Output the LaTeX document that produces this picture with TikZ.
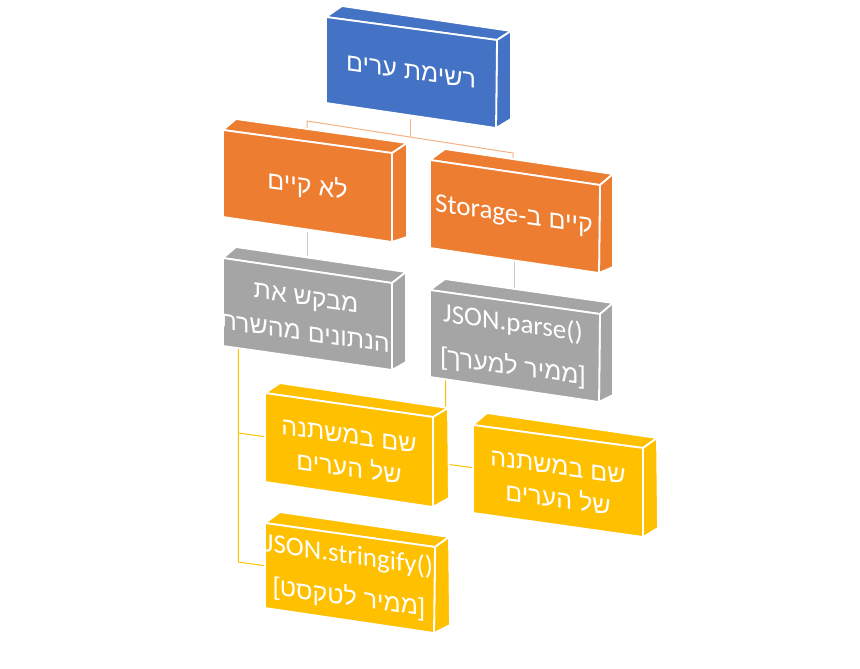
\documentclass[tikz,border=0pt]{standalone}
\usepackage{fontspec}
\setmainfont{Liberation Sans}
\newfontfamily\hebfont[Script=Hebrew]{Liberation Sans}
\newfontfamily\latfont{Carlito}
\TeXXeTstate=1
\definecolor{cblue}{HTML}{4472C4}
\definecolor{corange}{HTML}{ED7D31}
\definecolor{cgray}{HTML}{A5A5A5}
\definecolor{cgold}{HTML}{FFC000}
\definecolor{lorange}{HTML}{F4B183}
\definecolor{lgray}{HTML}{C9C9C9}
\newcommand\tdbox[9]{%
  \coordinate (#1-tl) at (#3);
  \coordinate (#1-tr) at (#4);
  \coordinate (#1-bl) at (#5);
  \coordinate (#1-br) at (#6);
  \coordinate (#1-btl) at (#7);
  \coordinate (#1-btr) at (#8);
  \coordinate (#1-bbr) at (#9);
  \filldraw[face, fill=#2] (#1-tl) -- (#1-btl) -- (#1-btr) -- (#1-tr) -- cycle;
  \filldraw[face, fill=#2] (#1-tr) -- (#1-btr) -- (#1-bbr) -- (#1-br) -- cycle;
  \filldraw[face, fill=#2] (#1-tl) -- (#1-tr) -- (#1-br) -- (#1-bl) -- cycle;
}
\begin{document}
\begin{tikzpicture}[x=1pt,y=-1pt,
  face/.style={draw=white, line width=1.8pt, line join=round},
  lbl/.style={text=white, inner sep=0pt, yslant=-0.14, transform shape,
    font=\fontsize{25}{30}\selectfont},
  lat/.style={font=\fontsize{27}{30}\latfont},
  conn/.style={line width=1pt}]
\useasboundingbox (0,0) rectangle (860,669);
% connector coordinates
\coordinate (c1a) at (410.7,119);
\coordinate (c1b) at (410.7,137);
\coordinate (c1l) at (307,121);
\coordinate (c1r) at (513,153);
\coordinate (c2t) at (307,132);
\coordinate (c3t) at (513,162);
\coordinate (c4a) at (307,232);
\coordinate (c4b) at (307,256);
\coordinate (c5a) at (514,262);
\coordinate (c5b) at (514,290);
\coordinate (g1) at (238.3,345);
\coordinate (g2) at (238.3,433);
\coordinate (g3) at (238.3,562);
\coordinate (g6) at (267,437);
\coordinate (g8) at (267,566);
\coordinate (h1) at (445.7,376);
\coordinate (h2) at (445.7,464);
\coordinate (h7) at (475,468);
\draw[conn, lorange] (c1a) -- (c1b);
\draw[conn, lorange] (c2t) -- (c1l) -- (c1r) -- (c3t);
\draw[conn, lgray] (c4a) -- (c4b);
\draw[conn, lgray] (c5a) -- (c5b);
\draw[conn, cgold] (g1) -- (g3) -- (g8);
\draw[conn, cgold] (g2) -- (g6);
\draw[conn, cgold] (h1) -- (h2) -- (h7);
% boxes
\tdbox{b1}{cblue}{326,17}{497,40}{326,103}{496,128}{342,6}{511,31}{511,119}
\tdbox{b2}{corange}{223,130}{392,153}{223,217}{392,242}{236,119}{407,143}{407,237}
\tdbox{b3}{corange}{430,160}{600,185}{430,248}{599,273}{445,149}{613,174}{613,267}
\tdbox{b4}{cgray}{223,258}{392,283}{223,346}{392,370}{236,247}{406,272}{406,362}
\tdbox{b5}{cgray}{430,290}{600,314}{430,377}{599,402}{445,279}{613,303}{613,395}
\tdbox{b6}{cgold}{265,393}{433,417}{265,482}{433,507}{280,383}{448,408}{449,498}
\tdbox{b7}{cgold}{473,425}{643,448}{473,513}{643,537}{487,413}{657,438}{658,528}
\tdbox{b8}{cgold}{265,523}{435,547}{265,608}{434,633}{280,512}{449,537}{450,625}
% labels
\node[lbl] (t1) at (411,72) {\hebfont\beginR רשימת ערים\endR};
\node[lbl] (t2) at (307.5,186) {\hebfont\beginR לא קיים\endR};
\node[lbl] (t3) at (514,216) {\hebfont\beginR קיים ב-\beginL{\fontsize{27}{30}\latfont Storage}\endL\endR};
\begin{scope}
\clip (b4-tl) -- (b4-tr) -- (b4-br) -- (b4-bl) -- cycle;
\node[lbl] (t4a) at (306,300) {\hebfont\beginR מבקש את\endR};
\node[lbl, anchor=east] (t4b) at (390,345) {\hebfont\beginR הנתונים מהשרת\endR};
\end{scope}
\node[lbl, lat] (t5a) at (513,324) {JSON.parse()};
\node[lbl] (t5b) at (513,367) {[{\hebfont\beginR ממיר למערך\endR}]};
\node[lbl] (t6a) at (349,436) {\hebfont\beginR שם במשתנה\endR};
\node[lbl] (t6b) at (349,467) {\hebfont\beginR של הערים\endR};
\node[lbl] (t7a) at (558,467) {\hebfont\beginR שם במשתנה\endR};
\node[lbl] (t7b) at (558,498) {\hebfont\beginR של הערים\endR};
\node[lbl, lat] (t8a) at (349,556) {JSON.stringify()};
\node[lbl] (t8b) at (349,598) {[{\hebfont\beginR ממיר לטקסט\endR}]};
\end{tikzpicture}
\end{document}
